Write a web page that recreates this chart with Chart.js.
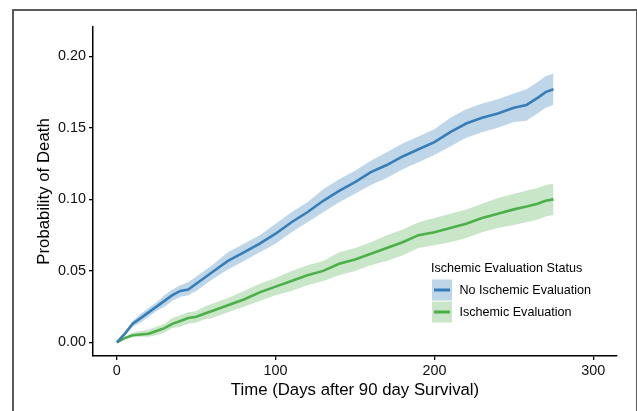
<!DOCTYPE html>
<html>
<head>
<meta charset="utf-8">
<script src="https://cdn.jsdelivr.net/npm/chart.js@4.4.0/dist/chart.umd.min.js"></script>
<style>
  html, body { margin: 0; padding: 0; background: #fff; }
  #wrap { position: relative; width: 637px; height: 411px; overflow: hidden; }
  #frame { position: absolute; left: 12px; top: 9px; width: 622px; height: 430px;
           border: 2px solid #5a5a5a; border-bottom: none; }
  #chart { position: absolute; left: 0; top: 0; }
</style>
</head>
<body>
<div id="wrap">
  <div id="frame"></div>
  <canvas id="chart" width="637" height="411"></canvas>
</div>
<script>
// days after 90 day survival
var times = [0, 5, 10, 15, 20, 25, 30, 35, 40, 45, 50, 55, 60, 70, 80, 90, 100, 110, 120, 130,
             140, 150, 160, 170, 180, 190, 200, 210, 220, 230, 240, 250, 258, 265, 270, 275];

// No Ischemic Evaluation (estimate + 95% band)
var noEval   = [0, 0.006, 0.013, 0.017, 0.021, 0.025, 0.029, 0.033, 0.036, 0.037, 0.041, 0.045, 0.049, 0.057, 0.063, 0.069, 0.076, 0.084, 0.091, 0.099,
                0.106, 0.112, 0.119, 0.124, 0.130, 0.135, 0.140, 0.147, 0.153, 0.157, 0.160, 0.164, 0.166, 0.171, 0.175, 0.177];
var noEvalHi = [0, 0.007, 0.015, 0.020, 0.024, 0.028, 0.033, 0.037, 0.040, 0.042, 0.046, 0.050, 0.054, 0.063, 0.069, 0.075, 0.083, 0.091, 0.098, 0.107,
                0.114, 0.120, 0.127, 0.133, 0.139, 0.144, 0.149, 0.157, 0.163, 0.167, 0.170, 0.174, 0.177, 0.182, 0.186, 0.188];
var noEvalLo = [0, 0.005, 0.011, 0.014, 0.018, 0.022, 0.025, 0.029, 0.032, 0.033, 0.036, 0.040, 0.044, 0.051, 0.057, 0.063, 0.069, 0.077, 0.084, 0.091,
                0.098, 0.104, 0.110, 0.115, 0.121, 0.126, 0.131, 0.137, 0.143, 0.147, 0.150, 0.154, 0.155, 0.160, 0.164, 0.166];

// Ischemic Evaluation
var withEval   = [0, 0.003, 0.005, 0.0055, 0.006, 0.008, 0.010, 0.013, 0.015, 0.017, 0.018, 0.020, 0.022, 0.026, 0.030, 0.035, 0.039, 0.043, 0.047, 0.050,
                  0.055, 0.058, 0.062, 0.066, 0.070, 0.075, 0.077, 0.080, 0.083, 0.087, 0.090, 0.093, 0.095, 0.097, 0.099, 0.100];
var withEvalHi = [0, 0.004, 0.007, 0.008, 0.009, 0.011, 0.013, 0.017, 0.019, 0.021, 0.022, 0.025, 0.027, 0.031, 0.036, 0.041, 0.045, 0.050, 0.054, 0.057,
                  0.063, 0.066, 0.070, 0.075, 0.079, 0.084, 0.087, 0.090, 0.093, 0.097, 0.101, 0.104, 0.106, 0.108, 0.110, 0.111];
var withEvalLo = [0, 0.002, 0.004, 0.004, 0.004, 0.005, 0.007, 0.010, 0.011, 0.013, 0.014, 0.016, 0.017, 0.021, 0.025, 0.029, 0.033, 0.036, 0.040, 0.043,
                  0.047, 0.050, 0.054, 0.057, 0.061, 0.066, 0.068, 0.070, 0.073, 0.077, 0.080, 0.082, 0.084, 0.086, 0.088, 0.089];

var groupNames = ["No Ischemic Evaluation", "Ischemic Evaluation"];
var legendTitle = "Ischemic Evaluation Status";
var xTicks = [0, 100, 200, 300];
var yTicks = [0, 0.05, 0.10, 0.15, 0.20];

var lineColors = ["#377eb8", "#4daf4a"];
var bandColors = ["rgba(55,126,184,0.32)", "rgba(77,175,74,0.30)"];
var FONT = "'Liberation Sans', Arial, Helvetica, sans-serif";

function pts(ys) {
  var out = [];
  for (var i = 0; i < times.length; i++) out.push({x: times[i], y: ys[i]});
  return out;
}

// legend drawn by hand so it looks like the ggplot one (band box + line)
var legendPlugin = {
  id: "kmLegend",
  afterDatasetsDraw: function(chart) {
    var ctx = chart.ctx;
    var x0 = 432, y0 = 267;
    ctx.save();
    ctx.fillStyle = "#000";
    ctx.font = "12.6px " + FONT;
    ctx.textBaseline = "middle";
    ctx.textAlign = "left";
    ctx.fillText(legendTitle, x0 - 1, y0 + 1.5);
    for (var i = 0; i < groupNames.length; i++) {
      var by = y0 + 12.5 + i * 22;
      ctx.fillStyle = bandColors[i];
      ctx.fillRect(x0, by, 20, 21);
      ctx.strokeStyle = lineColors[i];
      ctx.lineWidth = 3;
      ctx.beginPath();
      ctx.moveTo(x0 + 2, by + 10.5);
      ctx.lineTo(x0 + 18, by + 10.5);
      ctx.stroke();
      ctx.fillStyle = "#000";
      ctx.fillText(groupNames[i], x0 + 27.5, by + 11.5);
    }
    ctx.restore();
  }
};

var datasets = [
  { label: groupNames[0], data: pts(noEval), borderColor: lineColors[0], borderWidth: 2.6, fill: false },
  { label: groupNames[1], data: pts(withEval), borderColor: lineColors[1], borderWidth: 2.6, fill: false },
  { label: "hi0", data: pts(noEvalHi), borderWidth: 0, borderColor: "rgba(0,0,0,0)", backgroundColor: bandColors[0], fill: "+1" },
  { label: "lo0", data: pts(noEvalLo), borderWidth: 0, borderColor: "rgba(0,0,0,0)", fill: false },
  { label: "hi1", data: pts(withEvalHi), borderWidth: 0, borderColor: "rgba(0,0,0,0)", backgroundColor: bandColors[1], fill: "+1" },
  { label: "lo1", data: pts(withEvalLo), borderWidth: 0, borderColor: "rgba(0,0,0,0)", fill: false }
];

var chart = new Chart(document.getElementById("chart"), {
  type: "line",
  data: { datasets: datasets },
  options: {
    responsive: false,
    animation: false,
    devicePixelRatio: 1,
    elements: { point: { radius: 0 }, line: { tension: 0 } },
    layout: { padding: { left: 0, top: 27, right: 20, bottom: 0 } },
    plugins: { legend: { display: false }, tooltip: { enabled: false } },
    scales: {
      x: {
        type: "linear",
        min: -15, max: 315,
        afterBuildTicks: function(s) { s.ticks = xTicks.map(function(v) { return {value: v}; }); },
        afterFit: function(s) { s.height = 55; },
        grid: { display: true, drawOnChartArea: false, drawTicks: true, tickLength: 4, color: "#000", lineWidth: 1.3 },
        border: { display: true, color: "#000", width: 1.5 },
        ticks: { color: "#111", font: { family: FONT, size: 14.4 }, padding: 2, maxRotation: 0,
                 callback: function(v) { return String(v); } },
        title: { display: true, text: "Time (Days after 90 day Survival)", color: "#000",
                 font: { family: FONT, size: 16.8 }, padding: { top: 0, bottom: 11 } }
      },
      y: {
        type: "linear",
        min: -0.0095, max: 0.2205,
        afterBuildTicks: function(s) { s.ticks = yTicks.map(function(v) { return {value: v}; }); },
        afterFit: function(s) { s.width = 93; },
        grid: { display: true, drawOnChartArea: false, drawTicks: true, tickLength: 4, color: "#000", lineWidth: 1.3 },
        border: { display: true, color: "#000", width: 1.5 },
        ticks: { color: "#111", font: { family: FONT, size: 14.4 }, padding: 3,
                 callback: function(v) { return v.toFixed(2); } },
        title: { display: true, text: "Probability of Death", color: "#000",
                 font: { family: FONT, size: 16.8 }, padding: { top: 34, bottom: 0 } }
      }
    }
  },
  plugins: [legendPlugin]
});
</script>
</body>
</html>
